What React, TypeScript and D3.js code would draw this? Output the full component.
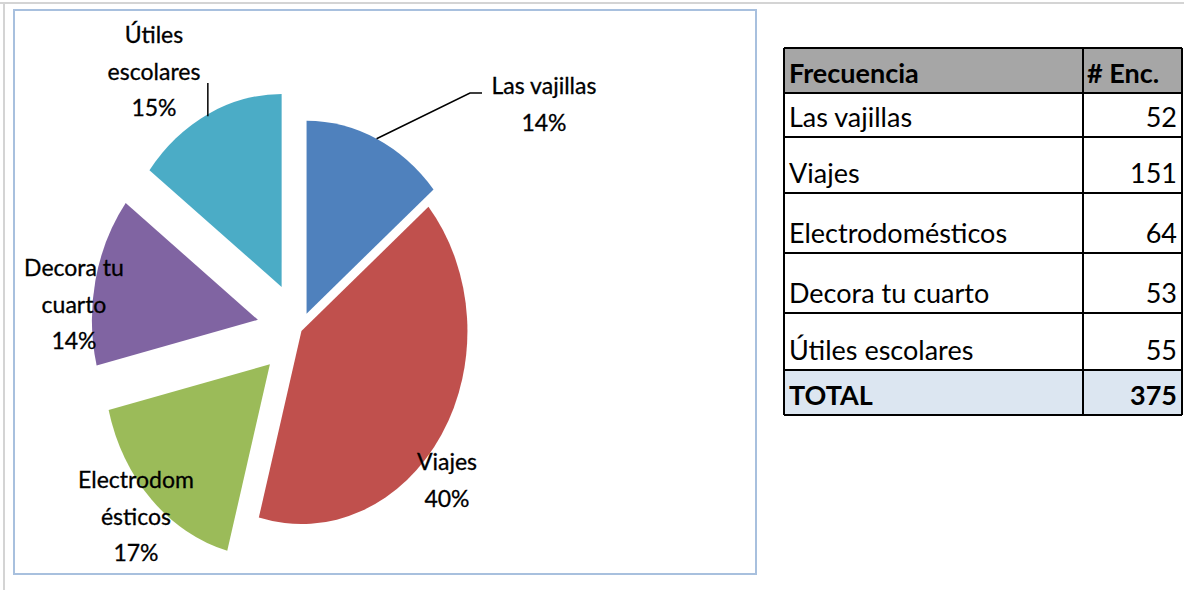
import React from "react";
import * as d3 from "d3";

const categories = ["Las vajillas", "Viajes", "Electrodomésticos", "Decora tu cuarto", "Útiles escolares"];
const counts = [52, 151, 64, 53, 55];
const sliceColors = ["#4f81bd", "#c0504d", "#9bbb59", "#8064a2", "#4bacc6"];
const explodeAmounts = [18, 2, 49, 50, 48];
const labelNames = [["Las vajillas"], ["Viajes"], ["Electrodom", "ésticos"], ["Decora tu", "cuarto"], ["Útiles", "escolares"]];
const labelPos = [
  [544, 94],
  [447, 470],
  [136, 488],
  [74, 276],
  [154, 43],
];
const hasLeader = [true, false, false, false, true];
const tableHeader = ["Frecuencia", "# Enc."];
const totalLabel = "TOTAL";
const rowEdges = [48, 93, 137, 193, 253, 313, 370, 415];

const W = 1187;
const H = 590;
const CX = 300;
const CY = 330;
const R = 193;
const SX = 0.86;
const LINE_H = 36.5;

export default function App() {
  const total = d3.sum(counts);
  const pie = d3.pie<number>().sort(null).startAngle(0).endAngle(2 * Math.PI)(counts);
  const arc = d3.arc<d3.PieArcDatum<number>>().innerRadius(0).outerRadius(R);

  const slices = pie.map((p, i) => {
    const mid = (p.startAngle + p.endAngle) / 2;
    const d = explodeAmounts[i];
    const ox = d * Math.sin(mid);
    const oy = -d * Math.cos(mid);
    const px = CX + SX * (ox + R * Math.sin(mid));
    const py = CY + oy - R * Math.cos(mid);
    return { p, i, ox, oy, px, py, mid };
  });

  const tx0 = 784, tx1 = 1083, tx2 = 1182;
  const rows = [
    ...categories.map((c, i) => [c, String(counts[i])]),
    [totalLabel, String(total)],
  ];

  const font = "Lato, 'Open Sans', sans-serif";

  return (
    <svg width={W} height={H} style={{ position: "absolute", left: 0, top: 0, background: "#fff" }}>
      <line x1={0} y1={3} x2={1184} y2={3} stroke="#d4d4d4" strokeWidth={2} />
      <line x1={4} y1={3} x2={4} y2={H} stroke="#d4d4d4" strokeWidth={2} />
      <rect x={14} y={10} width={742} height={564} fill="#fff" stroke="#a8c0de" strokeWidth={2} />

      <g transform={`translate(${CX},${CY}) scale(${SX},1)`}>
        {slices.map((s) => (
          <path key={s.i} d={arc(s.p) || ""} transform={`translate(${s.ox},${s.oy})`} fill={sliceColors[s.i]} />
        ))}
      </g>

      {slices.map((s) => {
        if (!hasLeader[s.i]) return null;
        const [lx, ly] = labelPos[s.i];
        if (s.i === 0) {
          const ex = lx - 74;
          const ey = ly - 1;
          return (
            <polyline key={"l" + s.i} points={`${s.px},${s.py} ${ex},${ey} ${ex + 12},${ey}`} fill="none" stroke="#000" strokeWidth={1.5} />
          );
        }
        return (
          <line key={"l" + s.i} x1={s.px} y1={s.py + 2} x2={s.px} y2={ly + 40} stroke="#000" strokeWidth={1.5} />
        );
      })}

      {slices.map((s) => {
        const [lx, ly] = labelPos[s.i];
        const lines = [...labelNames[s.i], `${Math.round((counts[s.i] / total) * 100)}%`];
        return (
          <text key={"t" + s.i} fontFamily={font} fontSize={23} fill="#000" stroke="#000" strokeWidth={0.3} textAnchor="middle">
            {lines.map((ln, k) => (
              <tspan key={k} x={lx} y={ly + k * LINE_H}>{ln}</tspan>
            ))}
          </text>
        );
      })}

      <g fontFamily={font} fontSize={27} fill="#000">
        <rect x={tx0} y={rowEdges[0]} width={tx2 - tx0} height={rowEdges[1] - rowEdges[0]} fill="#a6a6a6" />
        <rect x={tx0} y={rowEdges[6]} width={tx2 - tx0} height={rowEdges[7] - rowEdges[6]} fill="#dce6f1" />
        <text x={tx0 + 5} y={rowEdges[1] - 10} fontWeight="bold">{tableHeader[0]}</text>
        <text x={tx1 + 4} y={rowEdges[1] - 10} fontWeight="bold">{tableHeader[1]}</text>
        {rows.map((r, i) => {
          const bottom = rowEdges[i + 2];
          const bold = i === rows.length - 1;
          return (
            <g key={"r" + i} fontWeight={bold ? "bold" : "normal"}>
              <text x={tx0 + 5} y={bottom - 10}>{r[0]}</text>
              <text x={tx2 - 5} y={bottom - 10} textAnchor="end">{r[1]}</text>
            </g>
          );
        })}
        {rowEdges.map((y, i) => (
          <line key={"h" + i} x1={tx0} x2={tx2} y1={y} y2={y} stroke="#000" strokeWidth={2} />
        ))}
        <line x1={tx0} x2={tx0} y1={rowEdges[0]} y2={rowEdges[7]} stroke="#000" strokeWidth={2} />
        <line x1={tx1} x2={tx1} y1={rowEdges[0]} y2={rowEdges[7]} stroke="#000" strokeWidth={2} />
        <line x1={tx2} x2={tx2} y1={rowEdges[0]} y2={rowEdges[7]} stroke="#000" strokeWidth={2} />
      </g>
    </svg>
  );
}
